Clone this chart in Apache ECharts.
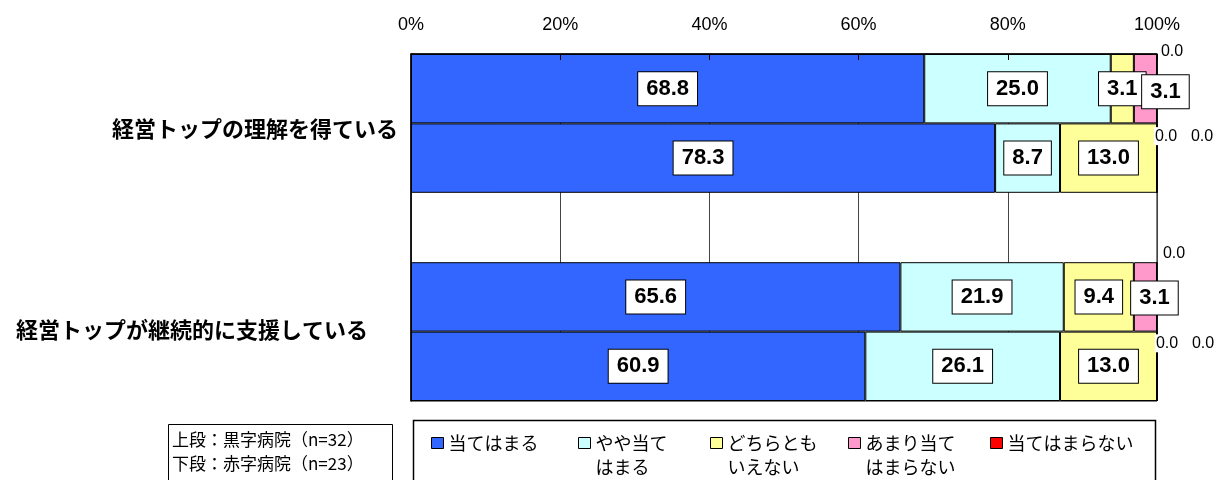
<!DOCTYPE html>
<html>
<head>
<meta charset="utf-8">
<script src="https://cdn.jsdelivr.net/npm/echarts@6/dist/echarts.min.js"></script>
<style>
html,body{margin:0;padding:0;background:#fff;}
#chart{width:1218px;height:480px;}
</style>
</head>
<body>
<div id="chart"></div>
<script>
// ---- data ----
const categories = ['理解・黒字', '理解・赤字', '', '支援・黒字', '支援・赤字'];
const groupLabels = ['経営トップの理解を得ている', '経営トップが継続的に支援している'];
const seriesNames = ['当てはまる', 'やや当てはまる', 'どちらともいえない', 'あまり当てはまらない', '当てはまらない'];
const legendTexts = ['当てはまる', 'やや当て\nはまる', 'どちらとも\nいえない', 'あまり当て\nはまらない', '当てはまらない'];
const valsApply = [68.8, 78.3, null, 65.6, 60.9];
const valsSomewhat = [25.0, 8.7, null, 21.9, 26.1];
const valsNeither = [3.1, 13.0, null, 9.4, 13.0];
const valsNotMuch = [3.1, 0.0, null, 3.1, 0.0];
const valsNot = [0.0, 0.0, null, 0.0, 0.0];
const xTicks = [0, 20, 40, 60, 80, 100];
const noteLines = ['上段：黒字病院（n=32）', '下段：赤字病院（n=23）'];

// ---- styling / layout ----
const colors = ['#3366FF', '#CCFFFF', '#FFFF99', '#FF99CC', '#FF0000'];
const allVals = [valsApply, valsSomewhat, valsNeither, valsNotMuch, valsNot];
// label nudges for the narrow segments (series-index-data-index)
const labelNudge = {
  '3-0': [20, 3], '3-3': [9, 1],
  '3-1': [9, -22], '3-4': [10, -23],
  '4-0': [15, -37], '4-1': [45, -22], '4-3': [17, -43], '4-4': [46, -23]
};
const legendLeft = [431, 578, 710, 848, 990];

const boxLabel = {
  show: true, position: 'inside',
  fontFamily: 'Liberation Sans', fontWeight: 'bold', fontSize: 22, color: '#000',
  backgroundColor: '#fff', borderColor: '#000', borderWidth: 1, padding: [6, 8, 5, 8],
  formatter: p => Number(p.value).toFixed(1)
};
const plainLabel = {
  show: true, position: 'inside',
  fontFamily: 'Liberation Sans', fontWeight: 'normal', fontSize: 16, color: '#000',
  backgroundColor: '#fff', borderWidth: 0, padding: [1, 1],
  formatter: p => Number(p.value).toFixed(1)
};

const series = allVals.map((vals, si) => ({
  name: seriesNames[si],
  type: 'bar',
  stack: 'total',
  xAxisIndex: 0,
  barCategoryGap: 0,
  itemStyle: { color: colors[si], borderColor: '#000', borderWidth: 1 },
  z: 2,
  data: vals.map((v, di) => {
    if (v === null) return '-';
    const base = v === 0 ? plainLabel : boxLabel;
    const nudge = labelNudge[si + '-' + di] || [0, 0];
    return { value: v, label: Object.assign({}, base, { offset: nudge }) };
  })
}));

const legendBase = {
  orient: 'horizontal', padding: 0, itemWidth: 12, itemHeight: 11, itemGap: 0,
  icon: 'rect', selectedMode: false,
  itemStyle: { borderColor: '#000', borderWidth: 1 },
  textStyle: { fontFamily: 'Noto Sans CJK JP', fontSize: 18, color: '#000', lineHeight: 24 }
};
const legends = seriesNames.map((n, i) => {
  const twoLine = legendTexts[i].indexOf('\n') >= 0;
  return Object.assign({}, legendBase, {
    left: legendLeft[i], top: twoLine ? 407 : 431,
    data: [n],
    // leading empty line keeps the first text line level with the icon
    formatter: () => (twoLine ? '\n' : '') + legendTexts[i]
  });
});

const chart = echarts.init(document.getElementById('chart'), null, { renderer: 'canvas' });
chart.setOption({
  animation: false,
  backgroundColor: '#fff',
  grid: { left: 411, right: 61, top: 54, bottom: 79, show: true, borderColor: '#000', borderWidth: 1, backgroundColor: 'transparent' },
  legend: legends,
  xAxis: [
    {
      type: 'value', position: 'top', min: xTicks[0], max: xTicks[xTicks.length - 1], interval: 20,
      axisLabel: { formatter: '{value}%', fontFamily: 'Liberation Sans', fontSize: 18, color: '#000', margin: 20 },
      axisTick: { show: true, inside: true, length: 6, lineStyle: { color: '#000' } },
      axisLine: { show: true, lineStyle: { color: '#000', width: 1.5 } },
      splitLine: { show: false },
      z: 10
    },
    {
      type: 'value', position: 'bottom', min: xTicks[0], max: xTicks[xTicks.length - 1], interval: 20,
      axisLabel: { show: false }, axisTick: { show: false }, axisLine: { show: false },
      splitLine: { show: true, lineStyle: { color: '#444', width: 1 } },
      z: 0
    }
  ],
  yAxis: {
    type: 'category', inverse: true, data: categories,
    axisLabel: { show: false }, axisTick: { show: false },
    axisLine: { show: true, lineStyle: { color: '#000', width: 1.5 } },
    z: 10
  },
  series: series,
  graphic: [
    { type: 'text', right: 1218 - 398, top: 118, z: 20,
      style: { text: groupLabels[0], font: 'bold 22px "Noto Sans CJK JP"', fill: '#000' } },
    { type: 'text', right: 1218 - 368, top: 319, z: 20,
      style: { text: groupLabels[1], font: 'bold 22px "Noto Sans CJK JP"', fill: '#000' } },
    { type: 'rect', shape: { x: 168.5, y: 424.5, width: 224, height: 70 }, z: 0,
      style: { fill: '#fff', stroke: '#000', lineWidth: 1 } },
    { type: 'text', left: 172, top: 428, z: 5,
      style: { text: noteLines.join('\n'), font: '17px "Noto Sans CJK JP"', lineHeight: 24, fill: '#000' } },
    { type: 'rect', shape: { x: 413.5, y: 420.5, width: 742, height: 80 }, z: 0,
      style: { fill: '#fff', stroke: '#000', lineWidth: 1.5 } }
  ]
});
</script>
</body>
</html>
